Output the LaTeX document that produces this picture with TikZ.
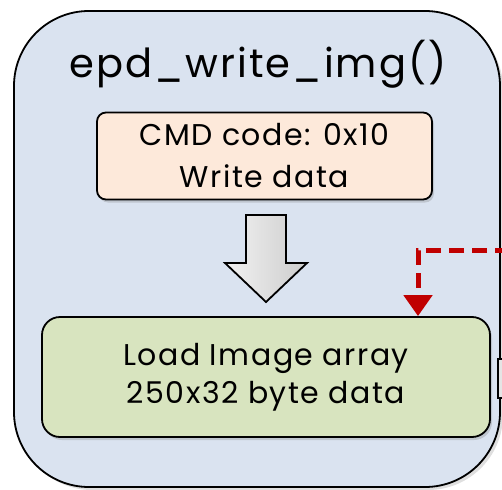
\documentclass[tikz,border=0pt]{standalone}
\usepackage{fontspec}
\setmainfont{Poppins}[LetterSpace=5]
\usepackage{tikz}
\usetikzlibrary{positioning,shadows,arrows.meta}

\definecolor{funcblue}{RGB}{218,227,240}
\definecolor{cmdorange}{RGB}{253,233,218}
\definecolor{loadgreen}{RGB}{216,228,191}
\definecolor{flowred}{RGB}{192,0,0}

\tikzset{
  funcbox/.style={draw,line width=1.8pt,fill=funcblue,rounded corners=75pt,
    minimum width=486pt,minimum height=476pt,
    drop shadow={shadow xshift=3pt,shadow yshift=-3pt,opacity=.25}},
  cmdbox/.style={draw,line width=1.8pt,fill=cmdorange,rounded corners=9pt,
    minimum width=335pt,minimum height=87pt,align=center,
    font=\fontsize{30}{42}\selectfont,
    drop shadow={shadow xshift=2pt,shadow yshift=-3pt,opacity=.3}},
  loadbox/.style={draw,line width=1.8pt,fill=loadgreen,rounded corners=18pt,
    minimum width=448pt,minimum height=120pt,align=center,
    font=\fontsize{30}{38}\selectfont,
    drop shadow={shadow xshift=2pt,shadow yshift=-3pt,opacity=.3}},
  nextbox/.style={draw,line width=1.8pt,fill=gray!20,
    minimum width=40pt,minimum height=39pt},
  dataflow/.style={draw=flowred,line width=5pt,dash pattern=on 15pt off 8pt,
    -{Triangle[length=21pt,width=28pt]}}
}

\begin{document}
\begin{tikzpicture}[x=1pt,y=-1pt]
  \useasboundingbox (0,0) rectangle (502,489);
  \clip (0,0) rectangle (502,489);

  % outer function block
  \node[funcbox] (func) at (257,249) {};
  \node[font=\fontsize{40}{46}\selectfont] (title) at (258,64) {epd\_write\_img()};

  \node[cmdbox]  (cmd)  at (264.5,156) {CMD code: 0x10\\Write data};
  \node[loadbox] (load) at (266,377)   {Load Image array\\250x32 byte data};

  % block arrow between the two steps
  \draw[line width=1.8pt,left color=gray!10,right color=gray!40]
    (246,215) -- (286,215) -- (286,263) -- (307,263) -- (266,302)
    -- (225,263) -- (246,263) -- cycle;

  % box of the next function, cut by the frame
  \node[nextbox,anchor=north west] (next) at (497,358) {};

  % data coming in from the right
  \coordinate (src) at (510,250);
  \coordinate (bend) at (418,250);
  \draw[dataflow] (src) -- (bend) -- (bend |- load.north);
\end{tikzpicture}
\end{document}
